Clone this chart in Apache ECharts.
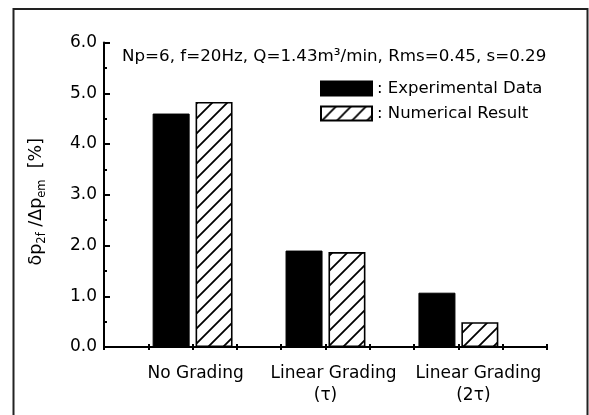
<!DOCTYPE html>
<html>
<head>
<meta charset="utf-8">
<style>
html,body{margin:0;padding:0;background:#fff;}
#chart{width:589px;height:415px;}
</style>
<script src="https://cdn.jsdelivr.net/npm/echarts@6/dist/echarts.min.js"></script>
</head>
<body>
<div id="chart"></div>
<script>
// ---- data ----
const categories = ['No Grading', 'Linear Grading\n(\u03c4)', 'Linear Grading\n(2\u03c4)'];
const categoryX = [2, 5, 8];
const experimental = [4.6, 1.9, 1.07];
const numerical = [4.83, 1.87, 0.49];
const seriesNames = ['Experimental Data', 'Numerical Result'];
const yTickLabels = ['0.0', '1.0', '2.0', '3.0', '4.0', '5.0', '6.0'];
const annotation = 'Np=6, f=20Hz, Q=1.43m\u00b3/min, Rms=0.45, s=0.29';

const FONT = 'DejaVu Sans';

// hatch pattern
function hatch() {
  const s = 15;
  const c = document.createElement('canvas');
  c.width = s; c.height = s;
  const g = c.getContext('2d');
  g.fillStyle = '#fff';
  g.fillRect(0, 0, s, s);
  g.strokeStyle = '#000';
  g.lineWidth = 1.8;
  g.beginPath();
  g.moveTo(-2, s + 2); g.lineTo(s + 2, -2);
  g.moveTo(-2, 2); g.lineTo(2, -2);
  g.moveTo(s - 2, s + 2); g.lineTo(s + 2, s - 2);
  g.stroke();
  return c;
}

const chart = echarts.init(document.getElementById('chart'), null, {renderer: 'canvas'});
// per-label rich styles (small horizontal nudges of each line)
const labelStyles = [['c0', 'c0'], ['c1a', 'c1b'], ['c2a', 'c2b']];
const xLabelMap = {};
categoryX.forEach((x, i) => {
  const lines = categories[i].split('\n');
  xLabelMap[x] = lines.map((l, j) => '{' + labelStyles[i][j] + '|' + l + '}').join('\n');
});
const lbl = pad => ({fontFamily: FONT, fontSize: 17, color: '#000', lineHeight: 22, padding: [0, 0, 0, pad]});

const option = {
  animation: false,
  backgroundColor: '#fff',
  grid: {left: 104, right: 42, top: 42.5, bottom: 68},
  legend: {
    orient: 'vertical',
    left: 315, top: 75,
    icon: 'rect',
    itemWidth: 51, itemHeight: 14,
    itemGap: 8,
    textStyle: {fontFamily: FONT, fontSize: 16.5, color: '#000'},
    formatter: n => ': ' + n,
    data: seriesNames
  },
  xAxis: [{
    type: 'value', min: 0, max: 10, interval: 1,
    splitLine: {show: false},
    axisLine: {show: true, lineStyle: {color: '#000', width: 2}},
    axisTick: {show: true, inside: false, length: 3, lineStyle: {color: '#000', width: 2}},
    axisLabel: {
      fontFamily: FONT, fontSize: 17, color: '#000', margin: 16, lineHeight: 22,
      formatter: v => xLabelMap[v] || '',
      rich: {c0: lbl(6), c1a: lbl(16), c1b: lbl(0), c2a: lbl(40), c2b: lbl(30)}
    }
  }, {
    type: 'value', min: 0, max: 10, interval: 1, position: 'bottom',
    splitLine: {show: false},
    axisLine: {show: false},
    axisTick: {show: true, inside: true, length: 3, lineStyle: {color: '#000', width: 2}},
    axisLabel: {show: false}
  }],
  yAxis: {
    type: 'value', min: 0, max: 6, interval: 1,
    splitLine: {show: false},
    axisLine: {show: true, lineStyle: {color: '#000', width: 2}},
    axisTick: {show: true, inside: true, length: 6, lineStyle: {color: '#000', width: 2}},
    minorTick: {show: true, splitNumber: 2, length: 3, lineStyle: {color: '#000', width: 2}},
    axisLabel: {fontFamily: FONT, fontSize: 17, color: '#000', margin: 7,
      formatter: v => yTickLabels[Math.round(v)]},
    name: '{m|\u03b4p}{s|2f}{m| /\u0394p}{s|em}{m|  [%]}',
    nameLocation: 'middle',
    nameRotate: 90,
    nameGap: 56,
    nameTextStyle: {
      fontFamily: FONT, fontSize: 17.5, color: '#000',
      padding: [0, 14, 0, 0],
      rich: {
        m: {fontFamily: FONT, fontSize: 17.5, color: '#000', lineHeight: 24, verticalAlign: 'middle'},
        s: {fontFamily: FONT, fontSize: 11.5, color: '#000', lineHeight: 24, verticalAlign: 'bottom'}
      }
    }
  },
  series: [{
    name: seriesNames[0], type: 'bar', xAxisIndex: 0,
    barWidth: 37, barGap: '16%',
    itemStyle: {color: '#000', borderColor: '#000', borderWidth: 1},
    data: categoryX.map((x, i) => [x, experimental[i]])
  }, {
    name: seriesNames[1], type: 'bar', xAxisIndex: 0,
    barWidth: 37, barGap: '16%',
    itemStyle: {color: {image: hatch(), repeat: 'repeat'}, borderColor: '#000', borderWidth: 1.6},
    data: categoryX.map((x, i) => [x, numerical[i]])
  }],
  graphic: [{
    type: 'rect', silent: true,
    shape: {x: 13.5, y: 9, width: 574, height: 420},
    style: {fill: 'none', stroke: '#222', lineWidth: 2}
  }, {
    type: 'text', left: 122, top: 48,
    style: {text: annotation, fontFamily: FONT, fontSize: 16.7, fill: '#000'}
  }]
};
chart.setOption(option);
</script>
</body>
</html>
